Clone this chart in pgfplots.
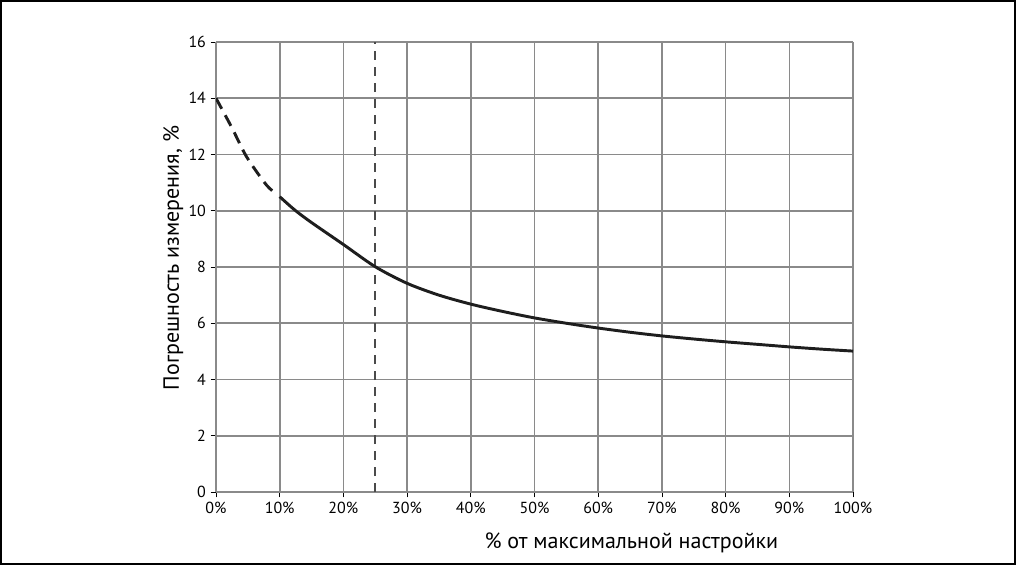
\documentclass[border=0pt]{standalone}
\usepackage{pgfplots}
\pgfplotsset{compat=1.18}
\usepackage{fontspec}
\setmainfont{PT Sans}
\definecolor{gridgray}{HTML}{8A8A8A}
\definecolor{curve}{HTML}{1E1E1E}
\definecolor{vline}{HTML}{4A4A4A}
\begin{document}
\begin{tikzpicture}
\useasboundingbox (-162pt,-54.75pt) rectangle (600pt,369pt);
\begin{axis}[
  scale only axis,
  width=477.75pt, height=337.5pt,
  xmin=0, xmax=100, ymin=0, ymax=16,
  xtick={0,10,...,100},
  xticklabels={0\%,10\%,20\%,30\%,40\%,50\%,60\%,70\%,80\%,90\%,100\%},
  ytick={0,2,...,16},
  grid=major,
  major grid style={gridgray, line width=1.2pt},
  axis line style={gridgray, line width=1.2pt},
  axis x line*=bottom, axis y line*=left,
  tick style={black, line width=0.6pt},
  tick align=outside,
  major tick length=4pt,
  tick label style={font=\fontsize{12}{14}\selectfont},
  /pgf/number format/assume math mode=true,
  xlabel={\% от максимальной настройки},
  ylabel={Погрешность измерения, \%},
  label style={font=\fontsize{16.5}{18}\selectfont},
  xlabel style={at={(axis description cs:0.652,0)}, anchor=center, yshift=-38pt},
  ylabel style={at={(axis description cs:0,0.52)}, anchor=center, yshift=32pt},
]
\addplot[vline, line width=1.4pt, dash pattern=on 7pt off 5pt] coordinates {(25,0) (25,16)};
\addplot[curve, line width=2.2pt, dash pattern=on 9pt off 5.5pt, smooth] coordinates {
(0,14.0) (2.5,12.95) (4.8,11.92) (7.9,10.92) (9.4,10.62)};
\addplot[curve, line width=2.2pt, smooth] coordinates {
(10,10.5) (12.4,10.02) (15,9.58) (20,8.8) (25,8.01) (30,7.42) (35,7.0)
(40,6.68) (45,6.42) (50,6.19) (55,6.0) (60,5.83) (65,5.68)
(70,5.55) (75,5.44) (80,5.34) (85,5.25) (90,5.16) (95,5.08) (100,5.01)};
\end{axis}
\draw[black, line width=1.5pt] (-161.25pt,-54pt) rectangle (599.25pt,368.25pt);
\end{tikzpicture}
\end{document}
